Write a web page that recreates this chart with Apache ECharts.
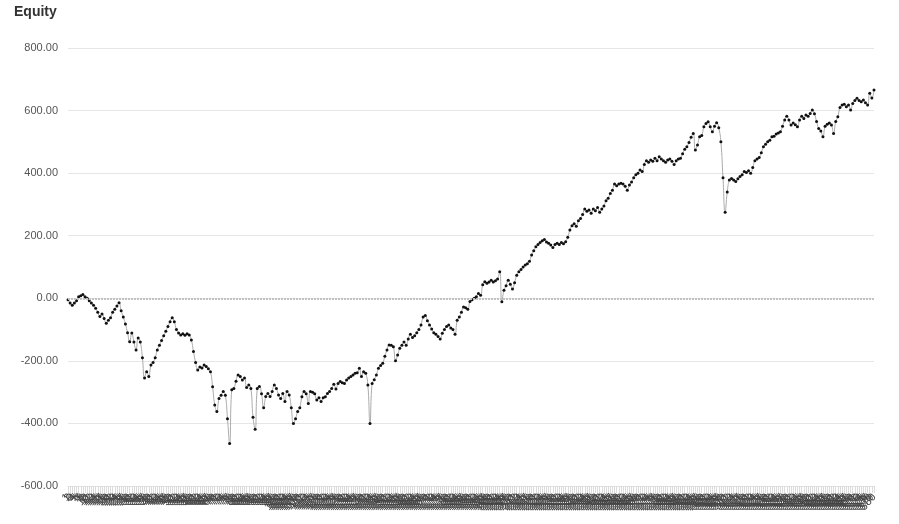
<!DOCTYPE html>
<html>
<head>
<meta charset="utf-8">
<title>Equity</title>
<script src="https://cdn.jsdelivr.net/npm/echarts@6/dist/echarts.min.js"></script>
<style>
    html, body { margin: 0; padding: 0; background: #fff; }
    #equity-echarts { width: 899px; height: 524px; }
</style>
</head>
<body>
<div id="equity-echarts"></div>
<script>
//----------------------------------------------------------------------------------
// Equity 曲线数据
//----------------------------------------------------------------------------------

var yTicks = [-600, -400, -200, 0, 200, 400, 600, 800];

var equityValues = [
    -5, -15, -22, -15, -8, 5, 8, 12, 5, 0,
    -8, -15, -22, -32, -45, -58, -50, -65, -80, -70,
    -62, -45, -35, -25, -14, -40, -60, -82, -110, -139,
    -111, -140, -165, -127, -140, -190, -255, -235, -250, -213,
    -205, -190, -165, -150, -135, -120, -105, -90, -75, -62,
    -75, -100, -111, -117, -113, -118, -113, -117, -133, -170,
    -205, -229, -220, -223, -213, -218, -225, -235, -283, -341,
    -362, -320, -310, -298, -310, -385, -464, -292, -288, -265,
    -245, -250, -261, -255, -285, -277, -288, -380, -419, -288,
    -282, -305, -350, -314, -304, -314, -298, -277, -288, -309,
    -320, -304, -330, -298, -309, -350, -400, -385, -362, -350,
    -315, -298, -305, -336, -298, -300, -305, -325, -318, -330,
    -318, -315, -304, -298, -288, -275, -290, -272, -266, -270,
    -272, -261, -255, -250, -245, -240, -238, -224, -250, -235,
    -240, -277, -400, -272, -260, -245, -224, -215, -208, -185,
    -165, -149, -150, -155, -200, -181, -160, -150, -140, -150,
    -130, -115, -125, -120, -110, -100, -85, -60, -55, -72,
    -85, -98, -110, -115, -122, -130, -112, -100, -90, -85,
    -95, -100, -115, -70, -60, -45, -28, -30, -35, -10,
    -5, 0, 5, 15, 10, 43, 53, 48, 52, 58,
    52, 56, 62, 85, -11, 26, 40, 58, 45, 30,
    50, 74, 85, 92, 100, 106, 110, 118, 138, 152,
    165, 172, 178, 184, 188, 180, 176, 170, 162, 172,
    176, 172, 178, 174, 181, 195, 218, 232, 238, 230,
    248, 255, 268, 285, 278, 282, 272, 285, 280, 290,
    275, 285, 295, 312, 320, 335, 345, 365, 360, 365,
    368, 365, 358, 345, 362, 372, 385, 395, 400, 410,
    405, 428, 440, 435, 442, 438, 448, 440, 452, 445,
    440, 435, 442, 445, 438, 428, 440, 445, 448, 462,
    476, 484, 498, 515, 527, 474, 490, 516, 520, 548,
    559, 564, 548, 532, 550, 561, 545, 500, 385, 275,
    340, 378, 383, 378, 373, 382, 389, 395, 405, 402,
    408, 400, 418, 440, 445, 450, 465, 484, 492, 500,
    505, 516, 518, 525, 528, 532, 550, 570, 582, 570,
    554, 560, 555, 548, 570, 582, 575, 586, 582, 591,
    602, 590, 565, 543, 535, 516, 550, 556, 560, 554,
    527, 565, 580, 610, 618, 620, 612, 618, 602, 623,
    632, 639, 632, 628, 634, 625, 618, 655, 640, 666
];

// 横轴类别: 交易序号 1..N
var tradeLabels = [];
for (var i = 0; i < equityValues.length; i++) {
    tradeLabels.push(String(i + 1));
}

function equityChartInit() {
    var equity_echarts = echarts.init(document.getElementById('equity-echarts'));
    var option = {
        animation: false,
        title: {
            text: 'Equity',
            left: 9,
            top: 0,
            textStyle: {
                fontFamily: 'Liberation Sans, Arial, sans-serif',
                fontSize: 14,
                fontWeight: 'bold',
                color: '#333'
            }
        },
        grid: {
            left: 68,
            right: 25,
            top: 48,
            bottom: 38
        },
        xAxis: {
            type: 'category',
            boundaryGap: false,
            data: tradeLabels,
            axisLine: {
                onZero: false,
                lineStyle: { color: '#e0e0e0' }
            },
            axisTick: {
                show: true,
                interval: 0,
                length: 7,
                lineStyle: { color: '#dcdcdc' }
            },
            axisLabel: {
                interval: 0,
                rotate: 50,
                margin: 9,
                fontSize: 11,
                color: '#444',
                fontFamily: 'Liberation Sans, Arial, sans-serif'
            },
            splitLine: { show: false }
        },
        yAxis: {
            type: 'value',
            min: yTicks[0],
            max: yTicks[yTicks.length - 1],
            interval: 200,
            axisLine: { show: false },
            axisTick: { show: false },
            axisLabel: {
                margin: 10,
                fontSize: 11,
                color: '#555',
                fontFamily: 'Liberation Sans, Arial, sans-serif',
                formatter: function(v) {
                    return v.toFixed(2);
                }
            },
            splitLine: {
                lineStyle: { color: '#e6e6e6' }
            }
        },
        series: [{
            name: 'Equity',
            type: 'line',
            data: equityValues,
            smooth: true,
            symbol: 'circle',
            symbolSize: 3,
            showSymbol: true,
            lineStyle: {
                color: '#aaa',
                width: 1
            },
            itemStyle: {
                color: '#111'
            },
            // 零线
            markLine: {
                silent: true,
                symbol: 'none',
                label: { show: false },
                lineStyle: {
                    color: '#c2c2c2',
                    type: [2, 1],
                    width: 2
                },
                data: [{ yAxis: 0 }]
            }
        }]
    };
    equity_echarts.setOption(option);
}

equityChartInit();
</script>
</body>
</html>
